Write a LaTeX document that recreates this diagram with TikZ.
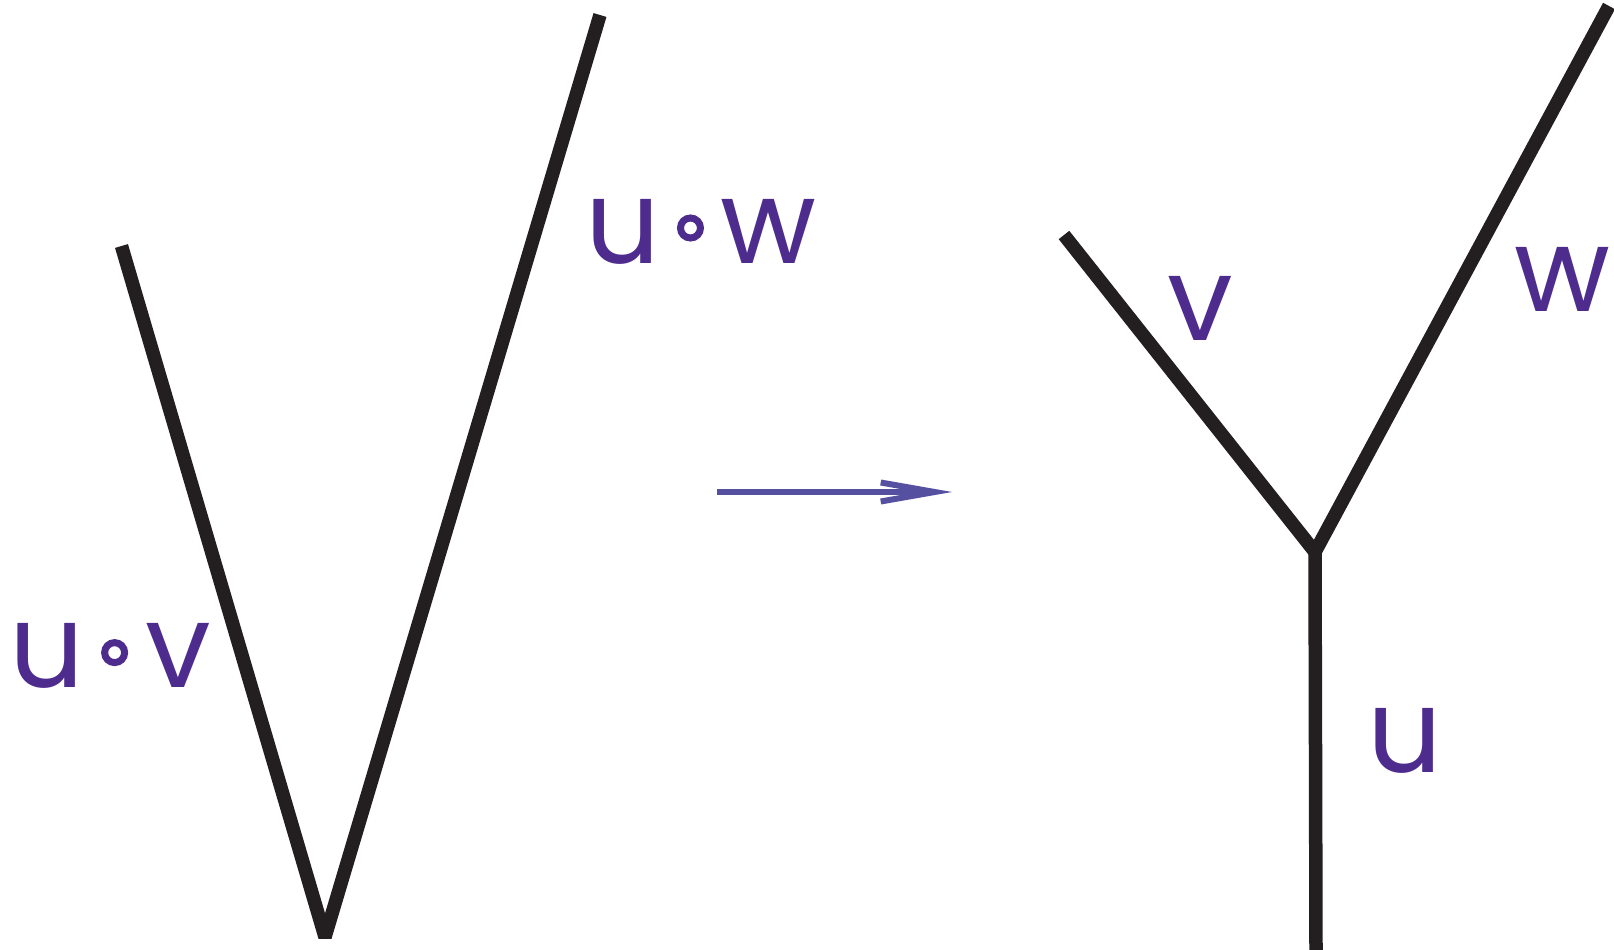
\documentclass[tikz,border=0pt]{standalone}
\usepackage{fontspec}
\setmainfont{Poppins}
\usetikzlibrary{arrows.meta}
\definecolor{labcol}{RGB}{78,44,142}
\definecolor{arrcol}{RGB}{86,80,160}
\definecolor{lincol}{RGB}{35,31,32}
\newcommand{\labfont}{\fontsize{117}{120}\selectfont}
\newcommand{\ringop}{\tikz[baseline=0pt]\draw[labcol, line width=7pt] (0pt,35pt) circle[radius=10pt];}
\tikzset{
  arm/.style={draw=lincol, line width=13.5pt},
  lab/.style={font=\labfont, text=labcol, inner sep=0pt, anchor=base},
  arr/.style={draw=arrcol, line width=6pt, -{Straight Barb[length=54pt, width=19pt, line width=6pt]}}
}

\begin{document}
\begin{tikzpicture}[x=1pt, y=-1pt]
		\useasboundingbox (0,0) rectangle (1614,950);
		% the V
		\coordinate (vl) at (121.5,246);
		\coordinate (vb) at (325,937);
		\coordinate (vr) at (600,15);
		\draw[arm, line join=bevel] (vl) -- (vb) -- (vr);
		\node[lab] (luv) at (110,687.6) {u\hspace{17pt}\ringop\hspace{17pt}v};
		\node[lab] (luw) at (701,263) {u\hspace{17pt}\ringop\hspace{17pt}w};
		% the arrow
		\coordinate (as) at (717,492);
		\coordinate (ae) at (952,492);
		\draw[arr] (as) -- (ae);
		% the Y
		\coordinate (yl) at (1064,235);
		\coordinate (yc) at (1315,552);
		\coordinate (yr) at (1609,6);
		\coordinate (yb) at (1316,950);
		\draw[arm] (yl) -- (yc);
		\draw[arm, line join=bevel] (yr) -- (yc) -- (yb);
		\node[lab] (lv) at (1200.5,340.7) {v};
		\node[lab] (lw) at (1562.5,311) {w};
		\node[lab] (lu) at (1405,772) {u};
	\end{tikzpicture}
\end{document}
